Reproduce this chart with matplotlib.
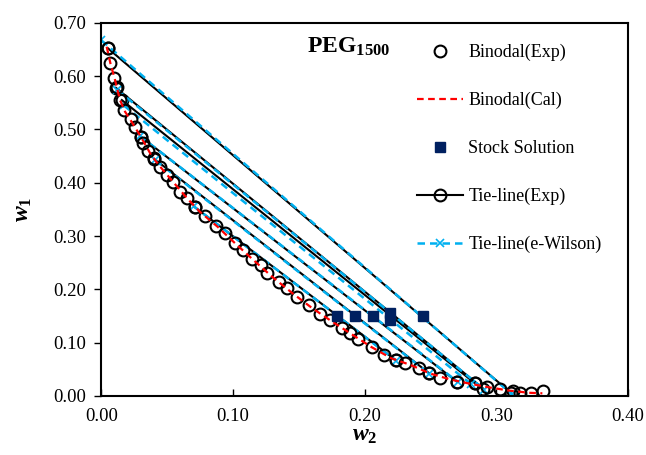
import numpy as np
import matplotlib
matplotlib.use("Agg")
import matplotlib.pyplot as plt
from matplotlib.ticker import FormatStrFormatter

plt.rcParams['font.family'] = ['Liberation Serif', 'DejaVu Serif']
plt.rcParams['mathtext.fontset'] = 'custom'
plt.rcParams['mathtext.rm'] = 'Liberation Serif'
plt.rcParams['mathtext.it'] = 'Liberation Serif:italic'
plt.rcParams['mathtext.bf'] = 'Liberation Serif:bold'
plt.rcParams['mathtext.bfit'] = 'Liberation Serif:bold:italic'

# binodal, experimental points
binodal_w2 = [0.0048, 0.0065, 0.0098, 0.0116, 0.0141, 0.0174, 0.0225, 0.0255, 0.0301, 0.0316,
              0.0354, 0.0399, 0.0445, 0.0498, 0.0544, 0.0597, 0.0650, 0.0711, 0.0787, 0.0870,
              0.0939, 0.1015, 0.1075, 0.1144, 0.1212, 0.1258, 0.1349, 0.1410, 0.1486, 0.1576,
              0.1660, 0.1736, 0.1825, 0.1888, 0.1949, 0.2052, 0.2146, 0.2237, 0.2306, 0.2412,
              0.2488, 0.2576, 0.2700, 0.2837, 0.2928, 0.3027, 0.3126, 0.3179, 0.3267, 0.3353]
binodal_w1 = [0.653, 0.625, 0.597, 0.579, 0.555, 0.536, 0.519, 0.504, 0.486, 0.474,
              0.459, 0.446, 0.429, 0.414, 0.401, 0.382, 0.371, 0.354, 0.337, 0.318,
              0.306, 0.287, 0.274, 0.257, 0.246, 0.231, 0.214, 0.202, 0.185, 0.171,
              0.154, 0.142, 0.127, 0.118, 0.107, 0.092, 0.077, 0.067, 0.062, 0.052,
              0.043, 0.034, 0.027, 0.024, 0.017, 0.013, 0.009, 0.006, 0.006, 0.009]

# binodal, calculated curve
cal_w2 = [0.004, 0.007, 0.010, 0.014, 0.018, 0.023, 0.030, 0.038, 0.046, 0.055,
          0.065, 0.075, 0.088, 0.100, 0.115, 0.130, 0.145, 0.160, 0.175, 0.190,
          0.205, 0.220, 0.235, 0.250, 0.265, 0.280, 0.295, 0.310, 0.325, 0.335]
cal_w1 = [0.655, 0.622, 0.596, 0.556, 0.533, 0.514, 0.486, 0.451, 0.426, 0.400,
          0.371, 0.345, 0.318, 0.290, 0.256, 0.223, 0.193, 0.165, 0.140, 0.116,
          0.092, 0.071, 0.058, 0.042, 0.031, 0.023, 0.016, 0.010, 0.006, 0.005]

# stock solutions
stock_w2 = [0.179, 0.193, 0.206, 0.219, 0.219, 0.244]
stock_w1 = [0.150, 0.150, 0.150, 0.155, 0.143, 0.150]

# tie-lines, experimental
tie_top_w2 = [0.005, 0.011, 0.0155, 0.030, 0.040, 0.071]
tie_top_w1 = [0.652, 0.578, 0.555, 0.486, 0.445, 0.354]
tie_bot_w2 = [0.311, 0.290, 0.2837, 0.270, 0.2488, 0.2237]
tie_bot_w1 = [0.006, 0.014, 0.024, 0.027, 0.043, 0.067]

# tie-lines, e-Wilson
wil_top_w2 = [0.000, 0.012, 0.017, 0.029, 0.041, 0.070]
wil_top_w1 = [0.667, 0.574, 0.545, 0.488, 0.442, 0.356]
wil_bot_w2 = [0.312, 0.291, 0.281, 0.271, 0.249, 0.224]
wil_bot_w1 = [0.003, 0.012, 0.022, 0.026, 0.042, 0.066]

blue = '#00B0F0'
navy = '#002060'

fig = plt.figure(figsize=(6.46, 4.55), dpi=100)
ax = fig.add_axes([0.157, 0.1297, 0.815, 0.8203])

ax.plot(binodal_w2, binodal_w1, 'o', ms=8.5, mfc='none', mec='black', mew=1.5,
        label='Binodal(Exp)', zorder=3)
ax.plot(cal_w2, cal_w1, '--', color='red', lw=1.6, dashes=(3, 2),
        label='Binodal(Cal)', zorder=4)
ax.plot(stock_w2, stock_w1, 's', ms=7, color=navy, label='Stock Solution', zorder=5)

for i in range(len(tie_top_w2)):
    ax.plot([tie_top_w2[i], tie_bot_w2[i]], [tie_top_w1[i], tie_bot_w1[i]], '-',
            color='black', lw=1.5, marker='o', ms=8.5, mfc='none', mew=1.5,
            label='Tie-line(Exp)' if i == 0 else None, zorder=2)
for i in range(len(wil_top_w2)):
    ax.plot([wil_top_w2[i], wil_bot_w2[i]], [wil_top_w1[i], wil_bot_w1[i]], '--',
            color=blue, lw=1.8, dashes=(3, 2), marker='x', ms=6, mew=1.2,
            label='Tie-line(e-Wilson)' if i == 0 else None, zorder=2)

ax.set_xlim(0, 0.40)
ax.set_ylim(0, 0.70)
ax.set_xticks(np.arange(0, 0.41, 0.1))
ax.set_yticks(np.arange(0, 0.71, 0.1))
ax.xaxis.set_major_formatter(FormatStrFormatter('%.2f'))
ax.yaxis.set_major_formatter(FormatStrFormatter('%.2f'))
ax.tick_params(axis='x', direction='in', length=5, width=1, labelsize=13.5, pad=9)
ax.tick_params(axis='y', direction='out', length=5, width=1, labelsize=13.5, pad=6)
for s in ax.spines.values():
    s.set_linewidth(1.5)

ax.set_xlabel(r'$\boldsymbol{w}_\mathbf{2}$', fontsize=17, labelpad=0)
ax.set_ylabel(r'$\boldsymbol{w}_\mathbf{1}$', fontsize=17, labelpad=14)

ax.text(0.39, 0.935, r'PEG$_{\mathbf{1500}}$', transform=ax.transAxes,
        fontsize=17, fontweight='bold', va='center', ha='left')

leg = ax.legend(loc='upper left', bbox_to_anchor=(417 / 646, (455 - 44) / 455),
                bbox_transform=fig.transFigure, frameon=False, fontsize=13,
                handlelength=2.55, handletextpad=0.3, labelspacing=1.7,
                borderpad=0, borderaxespad=0)

fig.savefig('out.png', dpi=100)
